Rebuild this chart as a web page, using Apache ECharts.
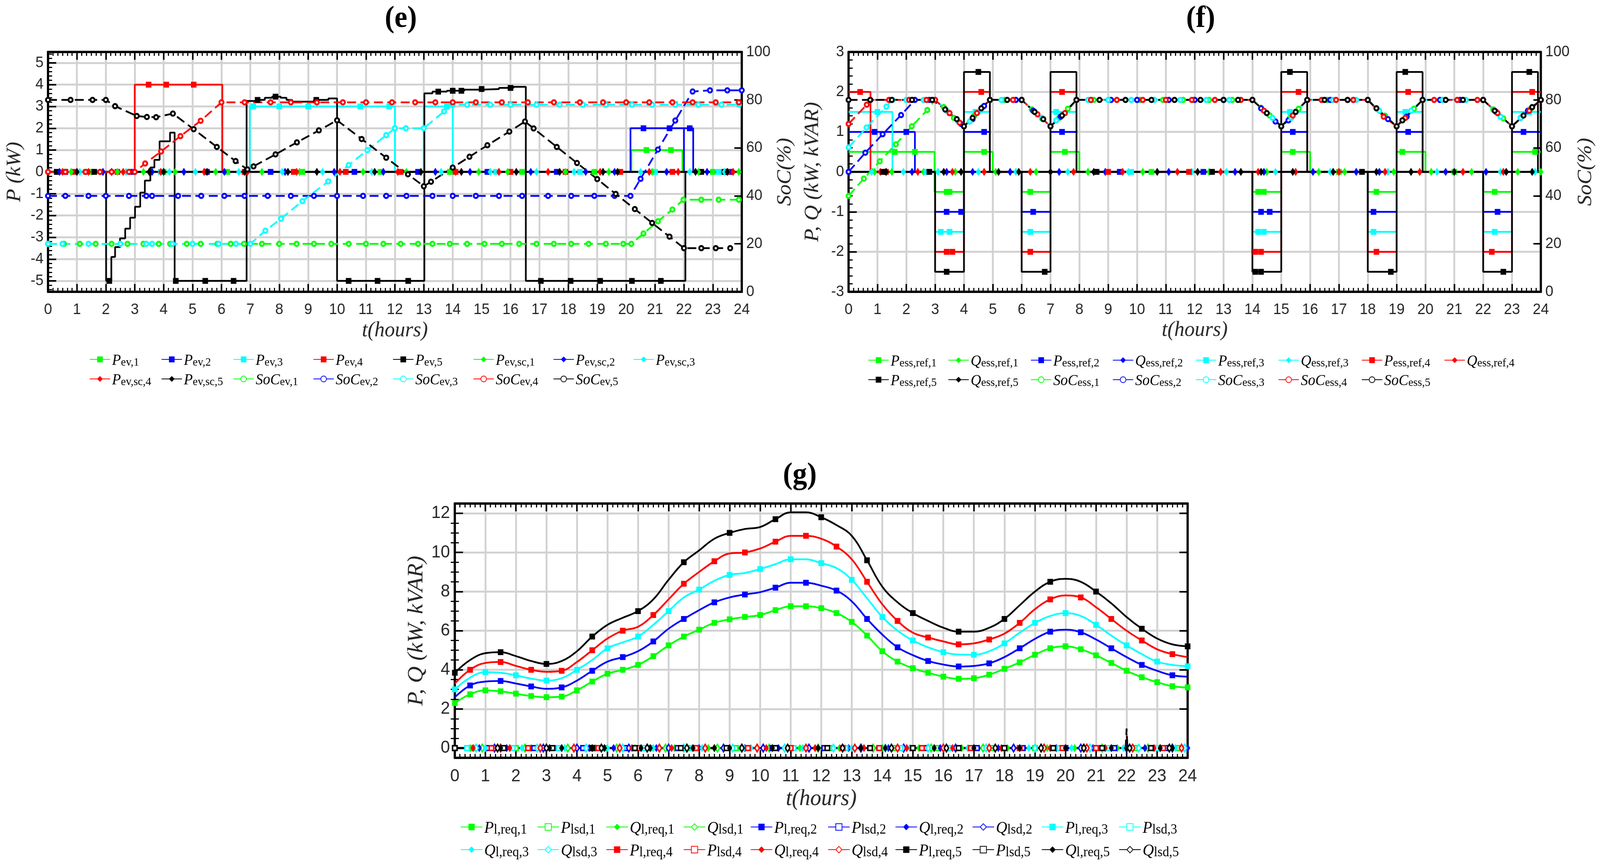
<!DOCTYPE html>
<html>
<head>
<meta charset="utf-8">
<script src="https://cdn.jsdelivr.net/npm/echarts@6.0.0/dist/echarts.min.js"></script>
<style>html,body{margin:0;padding:0;background:#fff;overflow:hidden;}#chart{width:4299px;height:2222px;transform-origin:0 0;}</style>
</head>
<body>
<div id="chart"></div>
<script>
// ======================= DATA =======================
// ---- Panel (e): EV powers (step functions as [time, level] change points) ----
const ePev1 = [[0,0],[20.18,1],[21.95,0]];
const ePev2 = [[0,0],[20.15,2],[22.0,0],[22.0,2],[22.32,0]];
const ePev3 = [[0,0],[6.98,3],[12.0,0],[13.0,3],[14.0,0]];
const ePev4 = [[0,0],[3.0,4],[6.03,0]];
const ePev5 = [[0,0],[2.01,-5],[2.19,-3.9],[2.32,-3.45],[2.49,-3.05],[2.67,-2.6],[2.84,-2.1],[3.01,-1.6],[3.19,-0.95],[3.35,-0.4],[3.54,0.2],[3.68,0.55],[3.86,1.4],[4.22,1.8],[4.38,-5],[6.87,3.25],[7.2,3.3],[7.5,3.4],[7.75,3.45],[8.05,3.4],[8.25,3.3],[8.45,3.22],[9.2,3.3],[9.7,3.37],[10.0,-5],[13.02,3.6],[13.3,3.68],[13.8,3.72],[14.4,3.77],[15.0,3.8],[15.6,3.85],[16.1,3.9],[16.53,-5],[22.05,0]];
// marker times
const ePev1Mk = [1.5,4.0,6.2,8.8,11.5,13.9,16.4,18.9,20.7,21.55,23.0];
const ePev2Mk = [0.6,2.9,5.5,7.7,10.6,12.8,15.2,17.6,20.6,21.5,22.2,23.6];
const ePev3Mk = [1.3,3.9,7.1,8.0,9.0,10.8,11.8,13.8,15.5,18.4,21.0,23.2];
const ePev4Mk = [0.9,2.4,3.48,4.09,5.04,6.8,8.5,10.3,12.2,14.1,16.0,17.9,19.8,21.6,23.5];
const ePev5Mk = [0.3,1.6,2.12,4.42,5.44,6.42,7.25,7.87,9.28,10.4,11.4,12.46,13.5,14.0,14.3,15.0,16.0,17.05,18.08,19.1,20.2,21.2,22.6,23.4];
// P_ev,sc (all zero) marker times
const eSc1Mk = [0.8,2.4,3.3,4.4,5.8,7.4,8.7,10.9,12.4,14.9,15.9,17.9,19.4,20.9,22.5,23.9];
const eSc2Mk = [0.4,1.9,3.6,4.7,6.1,8.2,9.9,11.6,13.4,14.6,16.7,18.6,19.6,21.4,22.8];
const eSc3Mk = [1.1,2.7,4.2,5.1,6.6,8.1,9.5,11.2,13.6,15.3,16.9,18.2,20.5,22.2,23.4];
const eSc4Mk = [0.5,1.4,2.6,3.9,5.4,6.9,8.6,10.1,12.1,14.1,15.6,17.3,19.1,20.8,21.8,23.7];
const eSc5Mk = [1.0,2.2,3.5,4.0,5.5,6.8,8.3,9.3,11.3,12.9,14.3,16.2,17.7,19.2,19.7,22.4,23.5];
// SoC of EVs (%), [time, value]
const eSoc1 = [[0,20],[0.55,20],[1.1,20],[1.65,20],[2.2,20],[2.75,20],[3.3,20],[3.83,20],[4.22,20],[4.8,20],[5.28,20],[5.86,20],[6.32,20],[6.78,20],[7.4,20],[8.0,20],[8.6,20],[9.2,20],[9.8,20],[10.4,20],[11.0,20],[11.6,20],[12.2,20],[12.8,20],[13.3,20],[13.9,20],[14.5,20],[15.1,20],[15.7,20],[16.3,20],[16.9,20],[17.5,20],[18.1,20],[18.7,20],[19.3,20],[19.9,20],[20.18,20],[20.6,24.3],[21.1,29.4],[21.6,34.3],[21.98,38.4],[22.6,38.4],[23.2,38.4],[23.9,38.4]];
const eSoc2 = [[0,40],[0.6,40],[1.4,40],[2.0,40],[2.8,40],[3.4,40],[3.6,40],[4.5,40],[5.3,40],[6.1,40],[6.8,40],[7.6,40],[8.4,40],[9.2,40],[10.0,40],[10.9,40],[11.7,40],[12.4,40],[13.3,40],[14.0,40],[14.8,40],[15.6,40],[16.4,40],[17.3,40],[18.1,40],[18.9,40],[19.6,40],[20.15,40],[20.5,47.1],[21.1,59.3],[21.7,71.4],[22.3,83.5],[22.9,84],[23.5,84],[24,84]];
const eSoc3 = [[0,20],[0.5,20],[1.4,20],[2.5,20],[3.4,20],[3.6,20],[4.3,20],[5.0,20],[5.9,20],[6.5,20],[7.0,20],[7.52,25.5],[8.06,30.5],[8.8,37.8],[9.69,46],[10.4,52.8],[11.05,59.1],[11.7,65.3],[12.0,68.2],[12.38,68.2],[13.0,68.2],[13.7,75.2],[14.0,78],[14.5,78],[15.3,78],[16.0,78],[16.9,78],[17.7,78],[18.5,78],[19.3,78],[20.2,78],[20.9,78],[21.7,78],[22.5,78],[23.3,78],[23.9,78]];
const eSoc4 = [[0,50],[0.6,50],[1.3,50],[1.8,50],[2.2,50],[2.8,50],[3.0,50],[3.36,53.5],[3.91,58.5],[4.58,64.9],[5.28,71.3],[6.0,79],[6.8,79],[7.7,79],[8.4,79],[9.3,79],[10.2,79],[11.0,79],[11.9,79],[12.7,79],[13.4,79],[14.0,79],[14.8,79],[15.7,79],[16.6,79],[17.5,79],[18.4,79],[19.2,79],[20.0,79],[20.8,79],[21.6,79],[22.3,79],[23.1,79],[23.9,79]];
const eSoc5 = [[0,80],[0.78,80],[1.54,80],[2.0,80],[2.32,77.4],[3.07,73.3],[3.42,72.9],[3.74,72.8],[4.32,74.3],[5.04,67.8],[5.84,60.4],[6.49,54.5],[6.9,51],[7.11,52.3],[7.87,57.3],[8.61,62.3],[9.37,67.3],[10.0,71.5],[10.85,63.7],[11.7,55.9],[12.45,49],[13.0,44],[13.25,45.9],[14.0,51.8],[14.58,56.3],[15.2,61.1],[15.96,66.8],[16.5,71],[16.8,68.1],[17.6,60.4],[18.3,53.7],[19.0,47],[19.64,40.8],[20.3,34.5],[20.9,28.7],[21.5,23],[22.0,18.2],[22.6,18.2],[23.1,18.2],[23.6,18.2]];

// ---- Panel (f): ESS reference powers (step change points) ----
const fP1 = [[0,0.5],[2.98,-0.5],[4.0,0.5],[5.0,0],[6.0,-0.5],[7.0,0.5],[8.0,0],[14.0,-0.5],[15.0,0.5],[16.0,0],[18.0,-0.5],[19.0,0.5],[20.0,0],[22.0,-0.5],[23.0,0.5]];
const fP2 = [[0,1],[2.3,0],[3.0,-1],[4.0,1],[4.9,0],[6.0,-1],[7.0,1],[7.9,0],[14.0,-1],[15.0,1],[15.9,0],[18.0,-1],[19.0,1],[19.9,0],[22.0,-1],[23.0,1]];
const fP3 = [[0,1.5],[1.52,0],[3.0,-1.5],[4.0,1.5],[4.9,0],[6.0,-1.5],[7.0,1.5],[7.9,0],[14.0,-1.5],[15.0,1.5],[15.9,0],[18.0,-1.5],[19.0,1.5],[19.9,0],[22.0,-1.5],[23.0,1.5]];
const fP4 = [[0,2],[0.76,0],[3.0,-2],[4.0,2],[4.9,0],[6.0,-2],[7.0,2],[7.9,0],[14.0,-2],[15.0,2],[15.9,0],[18.0,-2],[19.0,2],[19.9,0],[22.0,-2],[23.0,2]];
const fP5 = [[0,0],[3.0,-2.5],[4.0,2.5],[4.9,0],[6.0,-2.5],[7.0,2.5],[7.9,0],[14.0,-2.5],[15.0,2.5],[15.9,0],[18.0,-2.5],[19.0,2.5],[19.9,0],[22.0,-2.5],[23.0,2.5],[23.9,0]];
const fP1Mk = [1.6,2.3,3.4,3.5,4.7,6.3,7.5,10.5,14.2,14.4,15.4,17.0,18.3,19.2,21.0,22.4,23.8];
const fP2Mk = [0.9,2.0,3.4,3.9,4.7,6.4,7.4,9.4,12.3,14.3,14.6,15.4,18.2,19.4,22.5,23.4];
const fP3Mk = [1.0,2.7,3.2,3.5,4.4,6.3,7.2,9.8,14.2,14.4,15.3,18.2,19.3,22.4,23.6];
const fP4Mk = [0.4,1.3,3.4,3.6,4.6,6.3,7.4,9.0,11.8,14.1,14.3,15.6,18.3,19.4,22.3,23.7];
const fP5Mk = [1.2,2.8,3.4,4.5,6.8,8.6,12.6,14.1,14.3,15.3,17.8,18.8,19.3,22.7,23.6];
// Q_ess,ref (all zero) marker times
const fQ1Mk = [0.9,1.5,2.6,3.7,5.1,6.5,8.3,10.2,12.5,14.5,16.3,17.2,18.9,20.2,21.6,23.2,24];
const fQ2Mk = [1.3,2.2,3.4,4.3,5.6,7.3,8.9,11.1,13.4,14.4,16.1,17.6,18.4,20.7,22.1];
const fQ3Mk = [0.8,1.9,3.1,4.5,5.8,7.6,9.7,11.9,13.1,14.8,16.7,18.7,20.4,22.6,23.8];
const fQ4Mk = [1.1,2.4,3.6,4.7,6.3,7.8,9.5,11.4,12.9,14.2,15.5,17.0,18.6,19.8,21.3,22.7];
const fQ5Mk = [1.3,3.3,3.9,5.2,5.9,7.0,8.5,10.7,12.1,13.6,14.3,15.4,16.8,18.3,19.5,21.0,22.8,23.7];
// SoC of ESS (%)
const fS1 = [[0,40],[0.53,47.2],[1.08,54.4],[1.64,61.5],[2.19,69],[2.73,75.8],[3.0,80],[3.3,77],[3.65,72.5],[4.0,69],[4.35,73.3],[4.65,77],[4.9,80],[5.4,80],[6.0,80],[6.35,76],[6.7,72.3],[7.0,69],[7.3,72.5],[7.6,76.3],[7.9,80],[8.5,80],[9.3,80],[10.1,80],[10.9,80],[11.6,80],[12.5,80],[13.3,80],[14.0,80],[14.3,76.7],[14.6,73.5],[15.0,69],[15.3,72.5],[15.6,76.3],[15.9,80],[16.6,80],[17.3,80],[18.0,80],[18.3,76.5],[18.6,73.4],[19.0,69],[19.3,72.5],[19.6,76.3],[19.9,80],[20.6,80],[21.4,80],[22.0,80],[22.35,76],[22.7,72.3],[23.0,69],[23.3,72.5],[23.65,76.3],[24,80]];
const fS2 = [[0,50],[0.58,58],[1.18,65.7],[1.82,73.7],[2.3,80],[2.8,80],[3.0,80],[3.5,74.5],[3.9,70],[4.0,69],[4.3,72],[4.7,77.5],[4.9,80],[5.8,80],[6.0,80],[6.4,75.5],[7.0,69],[7.35,73],[7.9,80],[8.4,80],[9.1,80],[10.0,80],[11.1,80],[12.0,80],[13.0,80],[14.0,80],[14.3,76.5],[14.8,71],[15.0,69],[15.25,71.5],[15.9,80],[16.7,80],[17.5,80],[18.0,80],[18.7,72],[19.0,69],[19.35,73],[19.9,80],[20.5,80],[21.2,80],[22.0,80],[22.45,75],[23.0,69],[23.3,72.5],[23.55,75.5],[24,80]];
const fS3 = [[0,60.2],[0.62,68.5],[1.31,77.2],[1.52,80],[2.0,80],[2.6,80],[3.0,80],[3.4,75.5],[3.8,71],[4.0,69],[4.2,71],[4.5,75],[4.9,80],[5.3,80],[6.0,80],[6.7,72.5],[7.0,69],[7.2,71.5],[7.9,80],[8.3,80],[9.0,80],[9.8,80],[10.6,80],[11.5,80],[12.4,80],[13.2,80],[14.0,80],[14.7,72.5],[15.0,69],[15.35,72.5],[15.9,80],[16.8,80],[17.6,80],[18.0,80],[18.4,75.5],[19.0,69],[19.5,75.5],[19.9,80],[20.6,80],[21.4,80],[22.0,80],[22.6,73],[23.0,69],[23.3,72.5],[24,80]];
const fS4 = [[0,70],[0.63,78],[0.76,80],[1.4,80],[2.1,80],[2.7,80],[3.0,80],[3.5,74.5],[3.85,70.5],[4.0,69],[4.45,74.5],[4.9,80],[5.7,80],[6.0,80],[6.55,74],[7.0,69],[7.5,74.5],[7.9,80],[8.4,80],[9.3,80],[10.2,80],[11.0,80],[11.9,80],[12.7,80],[13.6,80],[14.0,80],[14.4,75.5],[15.0,69],[15.4,73.5],[15.9,80],[16.4,80],[16.9,80],[17.5,80],[18.0,80],[18.55,73],[19.0,69],[19.3,72.5],[19.9,80],[20.3,80],[21.1,80],[21.8,80],[22.0,80],[22.5,74.5],[23.0,69],[23.6,75.5],[24,80]];
const fS5 = [[0,80],[0.75,80],[1.5,80],[2.2,80],[2.9,80],[3.35,76],[3.75,72],[4.0,69],[4.3,72.5],[4.6,76.5],[4.9,80],[5.5,80],[6.0,80],[6.45,75],[6.75,72],[7.0,69],[7.4,73.5],[7.9,80],[8.7,80],[9.6,80],[10.5,80],[11.3,80],[12.2,80],[13.0,80],[13.5,80],[14.0,80],[14.5,74.5],[15.0,69],[15.5,75],[15.9,80],[16.5,80],[17.3,80],[18.0,80],[18.3,76.5],[19.0,69],[19.2,71.5],[19.9,80],[20.7,80],[21.3,80],[22.0,80],[22.4,75.5],[23.0,69],[23.4,73.5],[23.7,77],[24,80]];

// ---- Panel (g): loads, half-hourly samples ----
const gTime = [0,0.5,1,1.5,2,2.5,3,3.5,4,4.5,5,5.5,6,6.5,7,7.5,8,8.5,9,9.5,10,10.5,11,11.5,12,12.5,13,13.5,14,14.5,15,15.5,16,16.5,17,17.5,18,18.5,19,19.5,20,20.5,21,21.5,22,22.5,23,23.5,24];
const gPreq1 = [2.3,2.75,2.95,2.9,2.78,2.66,2.6,2.63,2.95,3.4,3.8,4.0,4.25,4.7,5.25,5.7,6.05,6.4,6.58,6.7,6.8,7.05,7.25,7.25,7.15,6.9,6.45,5.75,4.95,4.42,4.08,3.85,3.65,3.54,3.57,3.75,4.05,4.38,4.77,5.1,5.2,5.05,4.74,4.35,3.95,3.62,3.37,3.16,3.1];
const gPreq2 = [2.6,3.2,3.4,3.43,3.3,3.15,3.03,3.1,3.45,3.95,4.42,4.65,4.95,5.45,6.1,6.6,7.05,7.45,7.7,7.85,7.97,8.2,8.45,8.45,8.3,8.05,7.5,6.6,5.8,5.15,4.75,4.45,4.27,4.17,4.2,4.33,4.65,5.1,5.58,5.95,6.05,5.92,5.55,5.1,4.65,4.25,3.95,3.72,3.65];
const gPreq3 = [3.0,3.6,3.88,3.85,3.72,3.55,3.45,3.57,4.0,4.5,5.1,5.4,5.7,6.3,7.0,7.7,8.1,8.55,8.85,8.95,9.15,9.4,9.65,9.65,9.45,9.2,8.6,7.66,6.7,6.0,5.5,5.15,4.9,4.78,4.77,4.95,5.35,5.9,6.4,6.75,6.9,6.75,6.3,5.75,5.25,4.8,4.42,4.25,4.18];
const gPreq4 = [3.3,4.0,4.35,4.4,4.2,4.0,3.9,3.95,4.4,5.0,5.6,6.0,6.2,6.8,7.6,8.4,9.0,9.55,9.95,10.0,10.2,10.55,10.85,10.85,10.7,10.3,9.65,8.5,7.35,6.5,5.9,5.65,5.45,5.3,5.35,5.55,5.85,6.4,7.1,7.6,7.8,7.7,7.2,6.6,6.0,5.5,5.05,4.8,4.65];
const gPreq5 = [3.85,4.5,4.85,4.9,4.7,4.45,4.3,4.45,4.95,5.7,6.3,6.66,7.0,7.6,8.6,9.5,10.1,10.7,11.0,11.2,11.3,11.7,12.05,12.05,11.8,11.4,10.85,9.6,8.25,7.45,6.9,6.5,6.15,5.95,5.95,6.15,6.6,7.3,8.0,8.5,8.65,8.5,8.0,7.4,6.7,6.1,5.6,5.3,5.2];
// load shedding spikes (polyline points) at 22 h
const gPlsd4Spike = [[21.97,0],[22.0,0.75],[22.03,0]];
const gPlsd5Spike = [[21.97,0],[22.0,1.0],[22.03,0]];
// zero-valued series marker times
const gPlsdMk = [[0.6,2.0,3.3,4.9,6.4,7.6,9.2,10.9,12.3,14.4,15.8,17.6,19.0,20.6,22.3,23.7],[1.1,2.6,4.2,5.6,7.3,8.9,10.4,12.1,13.9,15.4,17.1,18.6,20.0,21.6,23.3],[0.4,1.9,3.4,4.8,6.2,7.8,9.4,11.1,12.8,14.6,16.2,18.0,19.8,21.4,23.0],[1.2,2.4,3.2,4.7,6.0,7.9,9.6,11.0,12.7,13.9,15.3,16.9,18.5,19.9,21.0,23.2],[0.0,1.6,3.2,4.5,5.9,7.4,8.9,10.5,12.2,13.6,15.0,16.5,18.0,19.6,21.2,22.8]];
const gQreqMk = [[0.5,1.4,2.5,3.5,4.6,5.9,7.2,8.3,9.9,11.3,12.6,14.0,15.2,16.6,18.1,19.4,20.3,21.7,23.1],[0.8,1.7,3.1,4.4,5.2,6.6,8.0,9.5,10.6,12.9,14.2,15.9,17.8,19.7,20.9,22.6,24.0],[1.0,2.2,3.6,5.0,6.5,8.1,9.7,11.4,13.0,14.9,16.8,18.8,20.2,21.9,23.6],[0.6,1.8,3.0,4.5,5.8,7.1,8.5,10.2,11.8,13.4,14.8,16.3,17.9,19.5,21.3,22.9],[1.5,3.1,3.5,4.5,4.9,6.1,6.4,7.8,8.5,9.0,10.4,11.9,13.3,14.1,15.7,17.0,18.5,20.0,21.5,22.0,23.1,23.5]];
const gQlsdMk = [[0.9,2.3,3.7,5.3,6.9,8.6,10.3,11.9,13.7,15.6,17.3,19.2,21.2,22.7],[1.3,2.9,4.0,5.7,7.0,8.8,10.1,11.6,13.3,14.7,16.4,18.3,20.5,22.0,23.5],[0.7,2.7,4.3,5.5,7.5,9.1,10.8,12.4,14.1,15.5,17.4,19.0,20.8,22.4,23.9],[1.5,2.8,3.9,5.4,6.7,8.2,9.9,11.5,13.1,14.5,16.0,17.5,19.3,20.7,22.2,23.8],[1.4,3.0,4.8,6.3,7.6,9.4,10.9,12.7,14.3,16.1,17.7,19.2,20.6,22.1,23.4]];

// tick labels
const eYTicks = [-5,-4,-3,-2,-1,0,1,2,3,4,5];
const gYTicks = [0,2,4,6,8,10,12];

// ======================= STYLE / HELPERS =======================
const COL = ['#00ff00','#0000ff','#00ffff','#ff0000','#000000'];
const SERIF = '"Liberation Serif","Times New Roman",serif';
const SANS = '"Liberation Sans",Arial,sans-serif';
const LBL = '#262626', GRIDC = '#d2d2d2';

function stepData(cp, marks, end) {
  const out = [];
  const mk = marks.slice().sort((a,b)=>a-b);
  for (let i=0;i<cp.length;i++){
    const t0 = cp[i][0], v = cp[i][1];
    const last = i === cp.length-1;
    const t1 = last ? end : cp[i+1][0];
    out.push({value:[t0,v], symbol:'none'});
    mk.forEach(m => { if (m>=t0 && (m<t1 || (last && m<=t1))) out.push([m,v]); });
    out.push({value:[t1,v], symbol:'none'});
  }
  return out;
}
function polyData(pts, marks) {
  const out = [];
  const mk = marks.slice().sort((a,b)=>a-b);
  for (let i=0;i<pts.length;i++){
    out.push({value:pts[i], symbol:'none'});
    if (i<pts.length-1 && pts[i][1]===pts[i+1][1]) {
      mk.forEach(m => { if (m>=pts[i][0] && m<pts[i+1][0]) out.push([m,pts[i][1]]); });
    }
  }
  return out;
}
function sampledData(ts, vs, every, off) {
  return ts.map((t,i) => ((i+off)%every===0) ? [t,vs[i]] : {value:[t,vs[i]], symbol:'none'});
}
function minorVals(lo, hi, step, major) {
  const a=[]; for (let v=lo; v<=hi+1e-9; v+=step){ const r=Math.round(v*1000)/1000; if (Math.abs(r/major-Math.round(r/major))>1e-6) a.push(r); } return a;
}

const series = [];
// o.hollow: white-filled marker with a thick coloured outline (MATLAB open marker look)
function addLine(o) {
  series.push({
    type:'line', name:o.name, xAxisIndex:o.xi, yAxisIndex:o.yi, data:o.data,
    symbol:o.symbol, symbolSize:o.size, showSymbol:true, showAllSymbol:true,
    smooth:o.smooth||false, silent:true, animation:false, legendHoverLink:false,
    lineStyle:{color:o.color, width:o.lw||4.5, type:o.dash?[24,12]:'solid'},
    itemStyle: o.hollow ? {color:'#ffffff', borderColor:o.color, borderWidth:o.hollow}
                        : {color:o.color, borderColor:o.color, borderWidth:0},
    emphasis:{disabled:true}
  });
}

// ---- panel e series ----
const ePev = [ePev1,ePev2,ePev3,ePev4,ePev5], ePevMk = [ePev1Mk,ePev2Mk,ePev3Mk,ePev4Mk,ePev5Mk];
const eScMk = [eSc1Mk,eSc2Mk,eSc3Mk,eSc4Mk,eSc5Mk];
const eSoc = [eSoc1,eSoc2,eSoc3,eSoc4,eSoc5];
for (let i=0;i<5;i++) addLine({name:'P_ev,'+(i+1), xi:0, yi:0, color:COL[i], symbol:'rect', size:15, data:stepData(ePev[i], ePevMk[i], 24)});
for (let i=0;i<5;i++) addLine({name:'P_ev,sc,'+(i+1), xi:0, yi:0, color:COL[i], symbol:'diamond', size:[14,21], data:stepData([[0,0]], eScMk[i], 24)});
for (let i=0;i<5;i++) addLine({name:'SoC_ev,'+(i+1), xi:0, yi:2, color:COL[i], symbol:'circle', size:11, hollow:5, dash:true, data:eSoc[i]});

// ---- panel f series ----
const fP = [fP1,fP2,fP3,fP4,fP5], fPMk = [fP1Mk,fP2Mk,fP3Mk,fP4Mk,fP5Mk];
const fQMk = [fQ1Mk,fQ2Mk,fQ3Mk,fQ4Mk,fQ5Mk];
const fS = [fS1,fS2,fS3,fS4,fS5];
for (let i=0;i<5;i++) {
  addLine({name:'P_ess,ref,'+(i+1), xi:2, yi:3, color:COL[i], symbol:'rect', size:15, data:stepData(fP[i], fPMk[i], 24)});
  addLine({name:'Q_ess,ref,'+(i+1), xi:2, yi:3, color:COL[i], symbol:'diamond', size:[14,21], data:stepData([[0,0]], fQMk[i], 24)});
}
for (let i=0;i<5;i++) addLine({name:'SoC_ess,'+(i+1), xi:2, yi:4, color:COL[i], symbol:'circle', size:11, hollow:5, dash:true, data:fS[i]});

// ---- panel g series ----
const gPreq = [gPreq1,gPreq2,gPreq3,gPreq4,gPreq5];
const gEvery = [[1,0],[2,1],[2,0],[2,1],[3,0]];
for (let i=0;i<5;i++) {
  addLine({name:'P_l,req,'+(i+1), xi:4, yi:5, color:COL[i], symbol:'rect', size:15, smooth:0.4, data:sampledData(gTime, gPreq[i], gEvery[i][0], gEvery[i][1])});
  let lsdPts = [[0,0],[24,0]];
  if (i===3) lsdPts = [[0,0]].concat(gPlsd4Spike, [[24,0]]);
  if (i===4) lsdPts = [[0,0]].concat(gPlsd5Spike, [[24,0]]);
  addLine({name:'P_lsd,'+(i+1), xi:4, yi:5, color:COL[i], symbol:'rect', size:12, hollow:4, dash:true, data:polyData(lsdPts, gPlsdMk[i])});
  addLine({name:'Q_l,req,'+(i+1), xi:4, yi:5, color:COL[i], symbol:'diamond', size:[14,21], data:stepData([[0,0]], gQreqMk[i], 24)});
  addLine({name:'Q_lsd,'+(i+1), xi:4, yi:5, color:COL[i], symbol:'diamond', size:[12,19], hollow:4, dash:true, data:stepData([[0,0]], gQlsdMk[i], 24)});
}

// ======================= AXES =======================
const lineBlack = {show:true, onZero:false, lineStyle:{color:'#000', width:6}};
function xPair(gi, fs, margin, gap, nfs) {
  const base = {type:'value', gridIndex:gi, min:0, max:24, interval:1, axisLine:lineBlack,
    axisTick:{show:true, inside:true, length:20, lineStyle:{color:'#000', width:4}},
    minorTick:{show:true, splitNumber:6, length:10, lineStyle:{color:'#000', width:3}},
    minorSplitLine:{show:false}};
  return [
    Object.assign({}, base, {position:'bottom',
      axisLabel:{show:true, fontSize:fs, fontFamily:SANS, color:LBL, margin:margin},
      splitLine:{show:true, lineStyle:{color:GRIDC, width:5}},
      name:'t(hours)', nameLocation:'middle', nameGap:gap,
      nameTextStyle:{fontSize:nfs, fontFamily:SERIF, fontStyle:'italic', color:LBL}}),
    Object.assign({}, base, {position:'top', axisLabel:{show:false}, splitLine:{show:false}})
  ];
}
const xAxis = [].concat(xPair(0,39,27,72,55), xPair(1,39,27,71,55), xPair(2,45,25,76,59));

const nameStyle = fs => ({fontSize:fs, fontFamily:SERIF, fontStyle:'italic', color:LBL});
const eMinor = minorVals(-5.4, 5.4, 0.2, 1);
const gMinor = minorVals(0.5, 12, 0.5, 2);
const yAxis = [
  // 0: e left
  {type:'value', gridIndex:0, min:-5.5, max:5.5, position:'left', axisLine:lineBlack,
   axisTick:{show:true, inside:true, length:22, lineStyle:{color:'#000', width:4}, customValues:eYTicks},
   axisLabel:{show:true, customValues:eYTicks, fontSize:39, fontFamily:SANS, color:LBL, margin:12},
   splitLine:{show:true, lineStyle:{color:GRIDC, width:5}},
   name:'P (kW)', nameLocation:'middle', nameRotate:90, nameGap:62, nameTextStyle:nameStyle(55)},
  // 1: e left minor ticks
  {type:'value', gridIndex:0, min:-5.5, max:5.5, position:'left', axisLine:{show:false},
   axisTick:{show:true, inside:true, length:11, lineStyle:{color:'#000', width:3}, customValues:eMinor},
   axisLabel:{show:false}, splitLine:{show:false}},
  // 2: e right SoC
  {type:'value', gridIndex:0, min:0, max:100, interval:20, position:'right', axisLine:lineBlack,
   axisTick:{show:true, inside:true, length:20, lineStyle:{color:'#000', width:4}},
   axisLabel:{show:true, fontSize:39, fontFamily:SANS, color:LBL, margin:12}, splitLine:{show:false},
   name:'SoC(%)', nameLocation:'middle', nameRotate:90, nameGap:89, nameTextStyle:nameStyle(55)},
  // 3: f left
  {type:'value', gridIndex:1, min:-3, max:3, interval:1, position:'left', axisLine:lineBlack,
   axisTick:{show:true, inside:true, length:22, lineStyle:{color:'#000', width:4}},
   minorTick:{show:true, splitNumber:5, length:11, lineStyle:{color:'#000', width:3}},
   axisLabel:{show:true, fontSize:39, fontFamily:SANS, color:LBL, margin:12},
   splitLine:{show:true, lineStyle:{color:GRIDC, width:5}}, minorSplitLine:{show:false},
   name:'P, Q (kW, kVAR)', nameLocation:'middle', nameRotate:90, nameGap:69, nameTextStyle:nameStyle(55)},
  // 4: f right SoC
  {type:'value', gridIndex:1, min:0, max:100, interval:20, position:'right', axisLine:lineBlack,
   axisTick:{show:true, inside:true, length:20, lineStyle:{color:'#000', width:4}},
   axisLabel:{show:true, fontSize:39, fontFamily:SANS, color:LBL, margin:12}, splitLine:{show:false},
   name:'SoC(%)', nameLocation:'middle', nameRotate:90, nameGap:93, nameTextStyle:nameStyle(55)},
  // 5: g left
  {type:'value', gridIndex:2, min:-0.5, max:12.5, position:'left', axisLine:lineBlack,
   axisTick:{show:true, inside:true, length:22, lineStyle:{color:'#000', width:4}, customValues:gYTicks},
   axisLabel:{show:true, customValues:gYTicks, fontSize:45, fontFamily:SANS, color:LBL, margin:13},
   splitLine:{show:true, lineStyle:{color:GRIDC, width:5}},
   name:'P, Q (kW, kVAR)', nameLocation:'middle', nameRotate:90, nameGap:73, nameTextStyle:nameStyle(59)},
  // 6: g left minor
  {type:'value', gridIndex:2, min:-0.5, max:12.5, position:'left', axisLine:{show:false},
   axisTick:{show:true, inside:true, length:11, lineStyle:{color:'#000', width:3}, customValues:gMinor},
   axisLabel:{show:false}, splitLine:{show:false}},
  // 7: g right major (mirror)
  {type:'value', gridIndex:2, min:-0.5, max:12.5, position:'right', axisLine:lineBlack,
   axisTick:{show:true, inside:true, length:22, lineStyle:{color:'#000', width:4}, customValues:gYTicks},
   axisLabel:{show:false}, splitLine:{show:false}},
  // 8: g right minor
  {type:'value', gridIndex:2, min:-0.5, max:12.5, position:'right', axisLine:{show:false},
   axisTick:{show:true, inside:true, length:11, lineStyle:{color:'#000', width:3}, customValues:gMinor},
   axisLabel:{show:false}, splitLine:{show:false}}
];

// ======================= LEGENDS =======================
function richLabel(name){ const i=name.indexOf('_'); return '{m|'+name.slice(0,i)+'}{s|'+name.slice(i+1)+'}'; }
function legendItems(names, cols, rows, perRow, o) {
  return names.map((n,i) => {
    const r = Math.floor(i/perRow), c = i%perRow;
    return {data:[n], left:cols[c], top:rows[r]-o.lh/2, padding:0, itemWidth:o.iw, itemHeight:o.ih, itemGap:0,
      selectedMode:false, formatter:richLabel,
      textStyle:{color:'#000', rich:{
        m:{fontFamily:SERIF, fontStyle:'italic', fontSize:o.mf, lineHeight:o.lh, verticalAlign:'bottom', color:'#000'},
        s:{fontFamily:SERIF, fontSize:o.sf, lineHeight:o.sl, verticalAlign:'bottom', color:'#000'}}}};
  });
}
const eNames = [], fNames = [], gNames = [];
for (let i=1;i<=5;i++) eNames.push('P_ev,'+i);
for (let i=1;i<=5;i++) eNames.push('P_ev,sc,'+i);
for (let i=1;i<=5;i++) eNames.push('SoC_ev,'+i);
for (let i=1;i<=5;i++) { fNames.push('P_ess,ref,'+i); fNames.push('Q_ess,ref,'+i); }
for (let i=1;i<=5;i++) fNames.push('SoC_ess,'+i);
for (let i=1;i<=5;i++) { gNames.push('P_l,req,'+i); gNames.push('P_lsd,'+i); gNames.push('Q_l,req,'+i); gNames.push('Q_lsd,'+i); }
const efStyle = {iw:55, ih:19, mf:39, lh:46, sf:30, sl:30};
const gStyle = {iw:58, ih:21, mf:42, lh:50, sf:35, sl:32};
const legend = [].concat(
  legendItems(eNames, [240,433,626,841,1055,1271,1486,1701], [927,977], 8, efStyle),
  legendItems(fNames, [2332,2547,2769,2989,3212,3434,3658,3880], [929,979], 8, efStyle),
  legendItems(gNames, [1237,1443,1628,1836,2016,2224,2405,2612,2798,3006], [2125,2183], 10, gStyle)
);

// ======================= CHART =======================
const titleStyle = t => ({text:t, font:'bold 78px "Liberation Serif"', fill:'#000', align:'center', verticalAlign:'middle', textAlign:'center', textVerticalAlign:'middle'});
const el = document.getElementById('chart');
// fit the 4299x2222 design to the actual viewport
const vw = window.innerWidth, vh = window.innerHeight;
const sx = vw/4299, sy = vh/2222;
if (vw > 0 && vh > 0 && (Math.abs(sx-1) > 0.002 || Math.abs(sy-1) > 0.002)) {
  el.style.transform = 'scale(' + sx + ',' + sy + ')';
}
const chart = echarts.init(el, null, {renderer:'canvas'});
chart.setOption({
  backgroundColor:'#ffffff',
  animation:false,
  grid:[
    {left:129, top:133, width:1864, height:614},
    {left:2280, top:133, width:1860, height:614},
    {left:1222, top:1289, width:1969, height:651}
  ],
  xAxis: xAxis,
  yAxis: yAxis,
  legend: legend,
  graphic: [
    {type:'text', x:1077, y:49, style:titleStyle('(e)')},
    {type:'text', x:3226, y:49, style:titleStyle('(f)')},
    {type:'text', x:2149, y:1218, style:titleStyle('(g)')}
  ],
  series: series
});
</script>
</body>
</html>
